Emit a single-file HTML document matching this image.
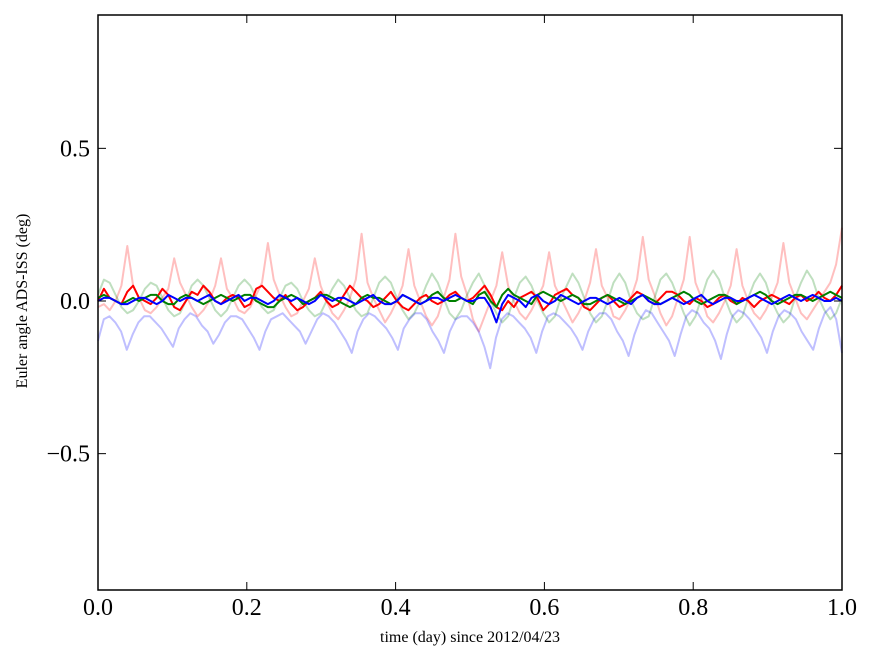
<!DOCTYPE html>
<html><head><meta charset="utf-8"><style>
body{margin:0;background:#fff}
svg text{font-family:"Liberation Serif",serif}
</style></head><body>
<svg id="chart" width="875" height="662" viewBox="0 0 875 662">
<rect x="0" y="0" width="875" height="662" fill="#fff"/>
<g id="series"></g>
<rect x="98" y="15" width="744" height="575" fill="none" stroke="#000" stroke-width="1.5"/>
<g id="axes"></g>
<text x="470" y="642" font-size="16" text-anchor="middle">time (day) since 2012/04/23</text>
<text x="27" y="301" font-size="16" text-anchor="middle" transform="rotate(-90 27 301)">Euler angle ADS-ISS (deg)</text>
</svg>
<script>
const xTicks=[0,0.2,0.4,0.6,0.8,1.0];
const xTickLabels=["0.0","0.2","0.4","0.6","0.8","1.0"];
const yTicks=[0.5,0,-0.5];
const yTickLabels=["0.5","0.0","\u22120.5"];
const lightRed=[-0.02,-0.01,-0.03,0.00,0.05,0.18,0.05,0.01,-0.03,-0.04,-0.02,0.01,0.04,0.14,0.06,0.02,-0.02,-0.05,-0.03,0.00,0.05,0.14,0.04,0.01,-0.03,-0.04,-0.02,0.02,0.06,0.19,0.07,0.02,-0.02,-0.05,-0.04,0.00,0.04,0.14,0.05,0.00,-0.04,-0.06,-0.03,0.01,0.07,0.22,0.06,0.01,-0.03,-0.07,-0.04,0.00,0.05,0.17,0.05,0.00,-0.05,-0.08,-0.05,0.01,0.07,0.22,0.08,0.02,-0.06,-0.10,-0.05,0.00,0.05,0.16,0.05,0.00,-0.04,-0.06,-0.03,0.01,0.05,0.16,0.05,0.01,-0.03,-0.07,-0.04,0.00,0.06,0.17,0.05,0.01,-0.05,-0.06,-0.03,0.01,0.07,0.21,0.07,0.02,-0.04,-0.08,-0.05,0.01,0.07,0.21,0.06,0.01,-0.05,-0.07,-0.04,0.00,0.05,0.17,0.05,0.00,-0.04,-0.06,-0.03,0.01,0.06,0.19,0.06,0.01,-0.04,-0.06,-0.03,0.00,0.03,0.06,0.12,0.24];
const lightGreen=[0.02,0.07,0.06,0.02,-0.02,-0.04,-0.03,0.00,0.04,0.06,0.05,0.01,-0.03,-0.05,-0.04,0.00,0.05,0.07,0.05,0.01,-0.03,-0.05,-0.03,0.01,0.05,0.07,0.05,0.01,-0.02,-0.04,-0.03,0.01,0.05,0.06,0.04,0.00,-0.03,-0.05,-0.04,0.00,0.04,0.07,0.05,0.01,-0.03,-0.05,-0.04,0.01,0.06,0.08,0.06,0.01,-0.03,-0.06,-0.04,0.00,0.05,0.09,0.06,0.01,-0.04,-0.06,-0.03,0.02,0.06,0.09,0.05,0.00,-0.04,-0.07,-0.05,0.01,0.06,0.08,0.05,0.00,-0.04,-0.07,-0.05,0.01,0.05,0.09,0.06,0.01,-0.04,-0.07,-0.05,0.00,0.06,0.09,0.06,0.00,-0.04,-0.06,-0.05,0.01,0.07,0.09,0.06,0.01,-0.04,-0.08,-0.05,0.01,0.07,0.10,0.07,0.01,-0.04,-0.07,-0.05,0.01,0.06,0.09,0.06,0.00,-0.04,-0.07,-0.05,0.01,0.06,0.10,0.07,0.01,-0.03,-0.06,-0.04,0.01];
const lightBlue=[-0.13,-0.06,-0.05,-0.07,-0.10,-0.16,-0.11,-0.07,-0.05,-0.05,-0.07,-0.09,-0.12,-0.15,-0.09,-0.06,-0.04,-0.05,-0.08,-0.10,-0.14,-0.11,-0.07,-0.05,-0.05,-0.06,-0.09,-0.12,-0.16,-0.10,-0.06,-0.05,-0.04,-0.06,-0.08,-0.10,-0.14,-0.10,-0.06,-0.04,-0.05,-0.07,-0.10,-0.13,-0.17,-0.10,-0.06,-0.04,-0.05,-0.07,-0.09,-0.12,-0.16,-0.09,-0.06,-0.04,-0.04,-0.06,-0.10,-0.13,-0.17,-0.10,-0.06,-0.05,-0.05,-0.07,-0.10,-0.15,-0.22,-0.12,-0.06,-0.04,-0.05,-0.07,-0.09,-0.12,-0.17,-0.10,-0.05,-0.04,-0.05,-0.07,-0.09,-0.12,-0.16,-0.10,-0.06,-0.04,-0.04,-0.06,-0.10,-0.13,-0.18,-0.11,-0.06,-0.03,-0.04,-0.07,-0.10,-0.13,-0.18,-0.11,-0.05,-0.03,-0.04,-0.07,-0.09,-0.13,-0.19,-0.11,-0.05,-0.03,-0.04,-0.06,-0.09,-0.12,-0.17,-0.10,-0.05,-0.03,-0.04,-0.06,-0.10,-0.13,-0.16,-0.09,-0.04,-0.02,-0.06,-0.17];
const darkRed=[0.00,0.04,0.01,0.00,-0.01,0.03,0.05,0.01,0.00,-0.01,0.01,0.04,0.02,-0.02,-0.03,0.00,0.03,0.02,0.05,0.03,0.00,-0.01,0.01,0.02,0.01,-0.02,-0.01,0.04,0.05,0.03,0.01,0.00,0.02,-0.01,-0.03,-0.02,0.00,0.01,0.03,0.00,-0.02,-0.01,0.02,0.05,0.03,0.01,0.00,-0.02,-0.01,0.01,0.03,0.00,-0.02,-0.03,-0.01,0.01,0.02,0.00,-0.01,0.00,0.02,0.03,0.01,0.00,0.01,0.03,0.05,0.02,-0.02,-0.03,0.00,-0.02,0.01,0.02,0.03,0.01,-0.03,-0.01,0.02,0.03,0.04,0.02,0.01,-0.02,-0.03,-0.01,0.01,0.02,0.00,-0.02,-0.01,0.01,0.03,0.02,0.00,-0.01,0.01,0.03,0.03,0.02,0.00,-0.01,0.01,0.00,-0.02,-0.01,0.01,0.02,0.00,-0.01,0.01,0.00,-0.02,0.00,0.01,0.02,0.01,0.00,-0.01,0.01,0.02,0.00,0.01,0.03,0.01,0.00,0.02,0.05];
const darkGreen=[0.01,0.02,0.01,0.00,-0.01,0.00,0.01,0.00,0.01,0.02,0.02,0.00,-0.01,-0.01,0.01,0.02,0.01,0.00,-0.01,0.00,0.01,0.02,0.01,0.00,0.01,0.02,0.02,0.00,-0.01,-0.02,-0.02,0.00,0.01,0.02,0.01,-0.01,0.00,0.01,0.02,0.02,0.01,0.00,-0.01,-0.02,-0.01,0.01,0.02,0.01,0.01,0.00,-0.01,0.00,0.02,0.01,0.00,-0.01,0.00,0.02,0.03,0.01,0.00,0.00,0.01,0.00,-0.01,0.02,0.03,0.00,-0.02,0.02,0.04,0.02,0.01,0.00,-0.01,0.02,0.03,0.02,0.01,0.00,0.01,0.02,0.01,-0.01,-0.01,0.00,0.01,0.02,0.01,0.00,-0.01,0.00,0.01,0.02,0.01,0.00,-0.01,0.00,0.01,0.02,0.03,0.02,0.00,-0.01,0.00,0.01,0.02,0.02,0.01,-0.01,0.00,0.01,0.02,0.03,0.02,0.00,-0.01,0.00,0.01,0.02,0.02,0.01,0.00,0.01,0.02,0.03,0.02,0.01];
const darkBlue=[0.00,0.01,0.01,0.00,-0.01,-0.01,0.00,0.01,0.01,0.00,-0.01,0.00,0.02,0.01,0.00,0.01,0.01,0.00,0.01,0.02,0.00,-0.01,0.00,0.01,0.02,0.00,0.01,0.01,0.00,-0.01,0.00,0.02,0.01,0.00,0.01,0.00,-0.01,0.00,0.02,0.01,0.00,0.01,0.01,0.00,-0.01,0.00,0.01,0.02,0.00,-0.01,-0.01,0.00,0.02,0.01,0.00,-0.01,0.00,0.01,0.01,0.00,0.01,0.02,0.01,0.00,0.00,0.01,0.01,-0.02,-0.07,-0.01,0.02,0.01,0.00,-0.02,0.01,0.02,0.00,-0.01,0.00,0.02,0.01,0.00,-0.01,0.00,0.01,0.01,0.00,-0.01,0.00,0.01,0.00,-0.01,0.01,0.02,0.00,-0.01,-0.01,0.00,0.01,0.00,-0.01,0.00,0.01,0.02,0.00,-0.01,0.00,0.01,0.01,0.00,0.00,0.01,0.02,0.01,0.00,-0.01,0.00,0.01,0.02,0.01,0.00,0.01,0.02,0.01,0.00,0.00,0.01,0.00];
const X0=98,X1=842,Y0=15,Y1=590,YC=301,YS=305.3;
const xScale=t=>X0+t*(X1-X0);
const yScale=v=>YC-v*YS;
const NS='http://www.w3.org/2000/svg';
const sg=document.getElementById('series'),ag=document.getElementById('axes');
function draw(arr,color,op,w,name){
  const n=arr.length;
  const d=arr.map((v,i)=>(i?'L':'M')+xScale(i/(n-1)).toFixed(1)+' '+yScale(v).toFixed(1)).join(' ');
  const p=document.createElementNS(NS,'path');
  p.setAttribute('d',d);p.setAttribute('fill','none');p.setAttribute('stroke',color);
  p.setAttribute('stroke-opacity',op);p.setAttribute('stroke-width',w);p.setAttribute('stroke-linejoin','round');
  
  
  sg.appendChild(p);
}
draw(lightRed,'#ff0000',0.25,2,'series-light-red');
draw(lightGreen,'#008000',0.25,2,'series-light-green');
draw(lightBlue,'#0000ff',0.25,2,'series-light-blue');
draw(darkRed,'#ff0000',1,2,'series-red');
draw(darkGreen,'#008000',1,2,'series-green');
draw(darkBlue,'#0000ff',1,2,'series-blue');
function line(x1,y1,x2,y2,name){
  const l=document.createElementNS(NS,'line');
  l.setAttribute('x1',x1);l.setAttribute('y1',y1);l.setAttribute('x2',x2);l.setAttribute('y2',y2);
  l.setAttribute('stroke','#000');l.setAttribute('stroke-width',1);
  
  
  ag.appendChild(l);
}
function text(x,y,s,anchor,name){
  const t=document.createElementNS(NS,'text');
  t.setAttribute('x',x);t.setAttribute('y',y);t.setAttribute('font-size',24);t.setAttribute('text-anchor',anchor);
  t.textContent=s;
  
  
  ag.appendChild(t);
}
xTicks.forEach((v,i)=>{const x=xScale(v);
  line(x,Y1,x,Y1-8,'x-tick');line(x,Y0,x,Y0+8,'x-tick-top');
  text(x,615,xTickLabels[i],'middle','x-tick-label');});
yTicks.forEach((v,i)=>{const y=yScale(v);
  line(X0,y,X0+8,y,'y-tick');line(X1,y,X1-8,y,'y-tick-right');
  text(90,y+8,yTickLabels[i],'end','y-tick-label');});
</script>
</body></html>
